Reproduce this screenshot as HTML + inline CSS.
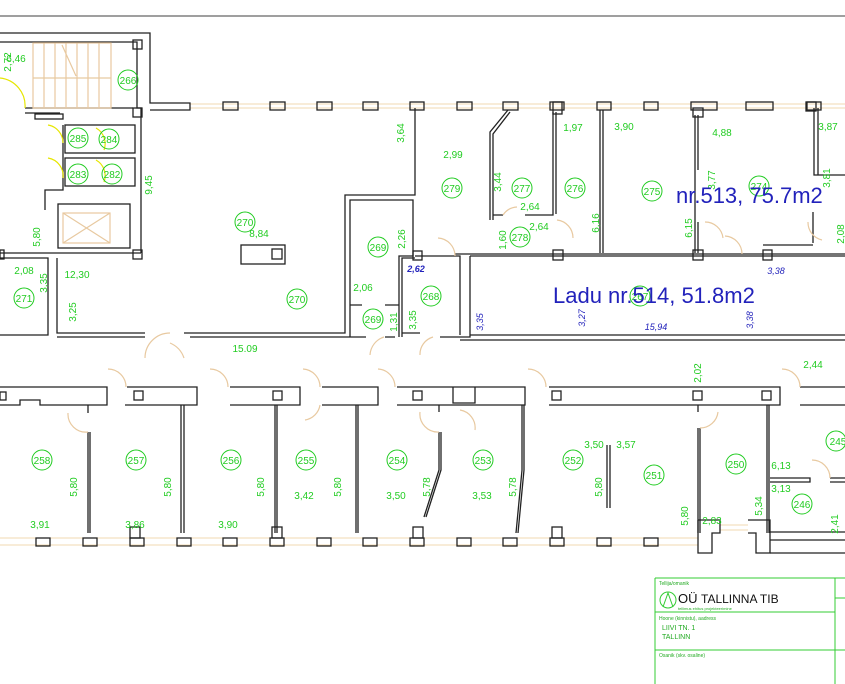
<!DOCTYPE html>
<html><head><meta charset="utf-8"><style>
html,body{margin:0;padding:0;background:#fff;}
svg{display:block}
.w{fill:none;stroke:#222;stroke-width:1.3}
.d{fill:none;stroke:#e8c9a0;stroke-width:1.2}
.win{stroke:#f0d8b0;stroke-width:1}
.g{fill:#22cc22;font-family:"Liberation Sans",sans-serif;font-size:10px}
.c{fill:none;stroke:#22cc22;stroke-width:1}
.b{fill:#2222bb;font-family:"Liberation Sans",sans-serif;font-size:22px}
.bs{fill:#2222bb;font-family:"Liberation Sans",sans-serif;font-size:9px;font-style:italic}
.y{fill:none;stroke:#e6e600;stroke-width:1.2}
</style></head><body>
<svg width="845" height="684" viewBox="0 0 845 684" xmlns="http://www.w3.org/2000/svg">
<line x1="0" y1="16" x2="845" y2="16" stroke="#666" stroke-width="1.2"/>
<line class="win" x1="190" y1="104" x2="845" y2="104"/><line class="win" x1="190" y1="108" x2="845" y2="108"/>
<g class="w">
<rect x="223" y="102" width="15" height="8"/><rect x="270" y="102" width="15" height="8"/><rect x="317" y="102" width="15" height="8"/><rect x="363" y="102" width="15" height="8"/><rect x="410" y="102" width="14" height="8"/><rect x="457" y="102" width="15" height="8"/><rect x="503" y="102" width="15" height="8"/><rect x="550" y="102" width="14" height="8"/><rect x="597" y="102" width="14" height="8"/><rect x="644" y="102" width="14" height="8"/><rect x="691" y="102" width="26" height="8"/><rect x="746" y="102" width="27" height="8"/><rect x="807" y="102" width="14" height="8"/>
<path d="M0,33 H150 V103 H190 V110 H150"/>
<path d="M0,42 H137 V108 H141 V253"/>
<rect x="133" y="40" width="9" height="9"/><rect x="133" y="108" width="9" height="9"/><rect x="133" y="250" width="9" height="9"/>
<path d="M25,108 H133 M25,113 H60"/>
<rect x="35" y="114" width="28" height="5"/>
<rect x="65" y="125" width="70" height="28"/><rect x="65" y="158" width="70" height="28"/>
<path d="M63,125 V190 H45 V210"/><rect x="58" y="204" width="72" height="44"/>
<path d="M0,253 H141 M0,258 H48 V335 H0 M57,258 V333 H145"/>
<rect x="0" y="250" width="4" height="9"/>
<path d="M184,333 H345 V195 H415 V108"/>
<path d="M190,337 H350 M57,337 H145"/>
<rect x="241" y="245" width="44" height="19"/><rect x="272" y="249" width="10" height="10"/>
<path d="M350,337 V200 H413 V256 H399 V337 M350,305 H362 M385,305 H399 M366,337 H350 M385,337 H395"/>
<path d="M402,337 V258 H415 M402,333 H420 M440,337 H470 V256 M415,256 H460 V335"/>
<rect x="413" y="251" width="9" height="9"/>
<path d="M455,254 H845 M470,256 H845 M470,335 H845 M460,340 H845"/>
<path d="M490,220 V132 L508,110 M493,220 V134 L510,112 M493,215 H503 M525,215 H553 V112 M556,214 V112"/>
<rect x="553" y="102" width="9" height="12"/><rect x="553" y="250" width="10" height="10"/>
<path d="M600,253 V110 M603,253 V110"/>
<path d="M695,253 V115 M698,170 V115 M695,253 V222 M698,253 V222"/>
<rect x="693" y="108" width="10" height="9"/><rect x="693" y="250" width="10" height="10"/>
<rect x="763" y="250" width="9" height="10"/>
<path d="M814,108 V175 H845 M818,108 V175 M813,243 V212 M763,245 H813"/>
<rect x="806" y="102" width="10" height="9"/>
<path d="M0,387 H107 V405 H88 M127,387 H197 V405 H125 M230,387 H300 V405 H230 M322,387 H378 V405 H322 M397,387 H525 V405 H397 M549,387 H780 V405 H549 M800,387 H845 M800,405 H845"/>
<path d="M0,405 H20 V400 H40 V405 H88"/>
<path d="M88,405 V413 M88,432 V533 M90,432 V533"/>
<path d="M181,405 V533 M184,405 V533 M275,405 V533 M277,405 V533 M356,405 V533 M358,405 V533"/>
<path d="M439,405 V412 M439,432 V470 L424,517 M441,432 V470 L426,517 M453,387 V403 H475 V387"/>
<path d="M522,405 V470 L516,533 M524,405 V470 L518,533"/>
<path d="M698,405 V412 M698,428 V533 M700,428 V533 M767,405 V533 M769,405 V533"/>
<path d="M607,445 V508 M610,445 V508"/>
<path d="M770,478 H810 V482 H770 M830,478 H845 M830,482 H845 M770,532 H845"/>
<line class="win" x1="0" y1="538" x2="698" y2="538"/><line class="win" x1="0" y1="545" x2="698" y2="545"/>
<line class="win" x1="720" y1="525" x2="748" y2="525"/><line class="win" x1="720" y1="530" x2="748" y2="530"/>
<rect x="36" y="538" width="14" height="8"/><rect x="83" y="538" width="14" height="8"/><rect x="130" y="538" width="14" height="8"/><rect x="177" y="538" width="14" height="8"/><rect x="223" y="538" width="14" height="8"/><rect x="270" y="538" width="14" height="8"/><rect x="317" y="538" width="14" height="8"/><rect x="363" y="538" width="14" height="8"/><rect x="410" y="538" width="14" height="8"/><rect x="457" y="538" width="14" height="8"/><rect x="503" y="538" width="14" height="8"/><rect x="550" y="538" width="14" height="8"/><rect x="597" y="538" width="14" height="8"/><rect x="644" y="538" width="14" height="8"/>
<rect x="130" y="527" width="10" height="11"/><rect x="272" y="527" width="10" height="11"/><rect x="413" y="527" width="10" height="11"/><rect x="552" y="527" width="10" height="11"/>
<path d="M698,520 H720 V533 H712 V553 H698 V520 M748,520 H770 V553 H756 V533 H748"/>
<path d="M770,540 H845 M770,553 H845"/>
<rect x="0" y="392" width="6" height="8"/><rect x="134" y="391" width="9" height="9"/><rect x="273" y="391" width="9" height="9"/><rect x="413" y="391" width="9" height="9"/><rect x="552" y="391" width="9" height="9"/><rect x="693" y="391" width="9" height="9"/><rect x="762" y="391" width="9" height="9"/>
</g>
<g class="d">
<rect x="33" y="43" width="78" height="65"/>
<path d="M33,78 H111 M44,43 V108 M55,43 V108 M66,43 V108 M77,43 V108 M88,43 V108 M99,43 V108 M62,45 L76,76"/>
<rect x="63" y="213" width="47" height="30"/><path d="M63,213 L110,243 M110,213 L63,243"/>
<path d="M145,358 A25,25 0 0 1 170,333 M184,358 A25,25 0 0 0 170,343"/>
<path d="M370,355 A20,20 0 0 1 384,337 M420,355 A18,18 0 0 1 433,337 M455,256 A18,18 0 0 0 438,238"/>
<path d="M573,238 A18,18 0 0 0 557,220 M723,238 A18,18 0 0 0 705,222 M742,254 A18,18 0 0 0 725,236 M808,222 A18,18 0 0 0 822,240 M517,207 A18,18 0 0 0 503,215"/>
<path d="M108,369 A18,18 0 0 1 126,387 M210,369 A18,18 0 0 1 228,387 M303,369 A18,18 0 0 1 320,387 M378,369 A18,18 0 0 1 395,387 M528,369 A18,18 0 0 1 546,387 M782,369 A18,18 0 0 1 800,387"/>
<path d="M68,413 A18,18 0 0 0 88,432 M305,420 A18,18 0 0 0 320,405 M420,412 A18,18 0 0 0 439,432 M460,410 A18,18 0 0 1 475,430 M718,412 A18,18 0 0 1 700,428 M812,460 A18,18 0 0 1 830,478"/>
</g>
<g class="y">
<path d="M0,78 A28,28 0 0 1 25,108 M48,125 A18,18 0 0 1 63,143 M48,158 A18,18 0 0 1 63,178 M96,128 A18,18 0 0 1 104,150 M96,160 A18,18 0 0 1 104,182"/>
</g>
<g class="c">
<circle cx="128" cy="80" r="10"/><circle cx="78" cy="138" r="10"/><circle cx="109" cy="139" r="10"/><circle cx="78" cy="174" r="10"/><circle cx="112" cy="174" r="10"/>
<circle cx="245" cy="222" r="10"/><circle cx="297" cy="299" r="10"/><circle cx="24" cy="298" r="10"/><circle cx="378" cy="247" r="10"/><circle cx="373" cy="319" r="10"/><circle cx="431" cy="296" r="10"/>
<circle cx="452" cy="188" r="10"/><circle cx="522" cy="188" r="10"/><circle cx="520" cy="237" r="10"/><circle cx="575" cy="188" r="10"/><circle cx="652" cy="191" r="10"/><circle cx="759" cy="186" r="10"/><circle cx="640" cy="296" r="10"/>
<circle cx="42" cy="460" r="10"/><circle cx="136" cy="460" r="10"/><circle cx="231" cy="460" r="10"/><circle cx="306" cy="460" r="10"/><circle cx="397" cy="460" r="10"/><circle cx="483" cy="460" r="10"/><circle cx="573" cy="460" r="10"/><circle cx="654" cy="475" r="10"/><circle cx="736" cy="464" r="10"/><circle cx="802" cy="504" r="10"/><circle cx="836" cy="441" r="10"/>
</g>
<g class="g" text-anchor="middle">
<text x="128" y="84">266</text><text x="78" y="142">285</text><text x="109" y="143">284</text><text x="78" y="178">283</text><text x="112" y="178">282</text>
<text x="245" y="226">270</text><text x="297" y="303">270</text><text x="24" y="302">271</text><text x="378" y="251">269</text><text x="373" y="323">269</text><text x="431" y="300">268</text>
<text x="452" y="192">279</text><text x="522" y="192">277</text><text x="520" y="241">278</text><text x="575" y="192">276</text><text x="652" y="195">275</text><text x="759" y="190">274</text><text x="640" y="300">267</text>
<text x="42" y="464">258</text><text x="136" y="464">257</text><text x="231" y="464">256</text><text x="306" y="464">255</text><text x="397" y="464">254</text><text x="483" y="464">253</text><text x="573" y="464">252</text><text x="654" y="479">251</text><text x="736" y="468">250</text><text x="802" y="508">246</text><text x="838" y="445">245</text>
<text x="16" y="62">6,46</text><text x="24" y="274">2,08</text><text x="77" y="278">12,30</text><text x="259" y="237">8,84</text><text x="363" y="291">2,06</text><text x="245" y="352">15.09</text>
<text x="453" y="158">2,99</text><text x="530" y="210">2,64</text><text x="539" y="230">2,64</text><text x="573" y="131">1,97</text><text x="624" y="130">3,90</text><text x="722" y="136">4,88</text><text x="828" y="130">3,87</text>
<text x="40" y="528">3,91</text><text x="135" y="528">3,86</text><text x="228" y="528">3,90</text><text x="304" y="499">3,42</text><text x="396" y="499">3,50</text><text x="482" y="499">3,53</text><text x="594" y="448">3,50</text><text x="626" y="448">3,57</text>
<text x="712" y="524">2,83</text><text x="781" y="469">6,13</text><text x="781" y="492">3,13</text><text x="813" y="368">2,44</text>
</g>
<g class="g" text-anchor="middle">
<text transform="translate(11,62) rotate(-90)">2,72</text><text transform="translate(152,185) rotate(-90)">9,45</text><text transform="translate(40,237) rotate(-90)">5,80</text><text transform="translate(47,283) rotate(-90)">3,35</text><text transform="translate(76,312) rotate(-90)">3,25</text>
<text transform="translate(404,133) rotate(-90)">3,64</text><text transform="translate(405,239) rotate(-90)">2,26</text><text transform="translate(397,322) rotate(-90)">1,31</text><text transform="translate(416,320) rotate(-90)">3,35</text>
<text transform="translate(501,182) rotate(-90)">3,44</text><text transform="translate(506,240) rotate(-90)">1,60</text><text transform="translate(599,223) rotate(-90)">6,16</text><text transform="translate(692,228) rotate(-90)">6,15</text><text transform="translate(715,180) rotate(-90)">3,77</text><text transform="translate(830,178) rotate(-90)">3,81</text><text transform="translate(844,234) rotate(-90)">2,08</text>
<text transform="translate(77,487) rotate(-90)">5,80</text><text transform="translate(171,487) rotate(-90)">5,80</text><text transform="translate(264,487) rotate(-90)">5,80</text><text transform="translate(341,487) rotate(-90)">5,80</text><text transform="translate(430,487) rotate(-90)">5,78</text><text transform="translate(516,487) rotate(-90)">5,78</text><text transform="translate(602,487) rotate(-90)">5,80</text><text transform="translate(688,516) rotate(-90)">5,80</text><text transform="translate(762,506) rotate(-90)">5,34</text><text transform="translate(838,524) rotate(-90)">2,41</text><text transform="translate(701,373) rotate(-90)">2,02</text>
</g>
<g class="bs" text-anchor="middle">
<text x="416" y="272" font-weight="bold">2,62</text><text x="656" y="330">15,94</text><text x="776" y="274">3,38</text>
<text transform="translate(483,322) rotate(-90)">3,35</text><text transform="translate(585,318) rotate(-90)">3,27</text><text transform="translate(753,320) rotate(-90)">3,38</text>
</g>
<text class="b" x="676" y="203">nr.513, 75.7m2</text>
<text class="b" x="553" y="303">Ladu  nr.514, 51.8m2</text>
<g fill="none" stroke="#33cc33" stroke-width="1">
<path d="M655,578 H845 M655,578 V684 M835,578 V684 M655,612 H835 M655,650 H845 M835,598 H845"/>
<circle cx="668" cy="600" r="8"/><path d="M663,607 L668,593 L673,607"/>
</g>
<g fill="#22aa22" font-family="Liberation Sans,sans-serif">
<text x="659" y="585" font-size="5">Tellija/omanik</text>
<text x="678" y="603" font-size="13" fill="#111">OÜ</text><text x="701" y="603" font-size="12" fill="#111">TALLINNA TIB</text>
<text x="678" y="610" font-size="4">tellimus ehitus projekteerimine</text>
<text x="659" y="620" font-size="5">Hoone (kinnistu), aadress</text>
<text x="662" y="630" font-size="7">LIIVI TN. 1</text><text x="662" y="639" font-size="7">TALLINN</text>
<text x="659" y="657" font-size="5">Osanik (skv. osaline)</text>
</g>
</svg>
</body></html>
